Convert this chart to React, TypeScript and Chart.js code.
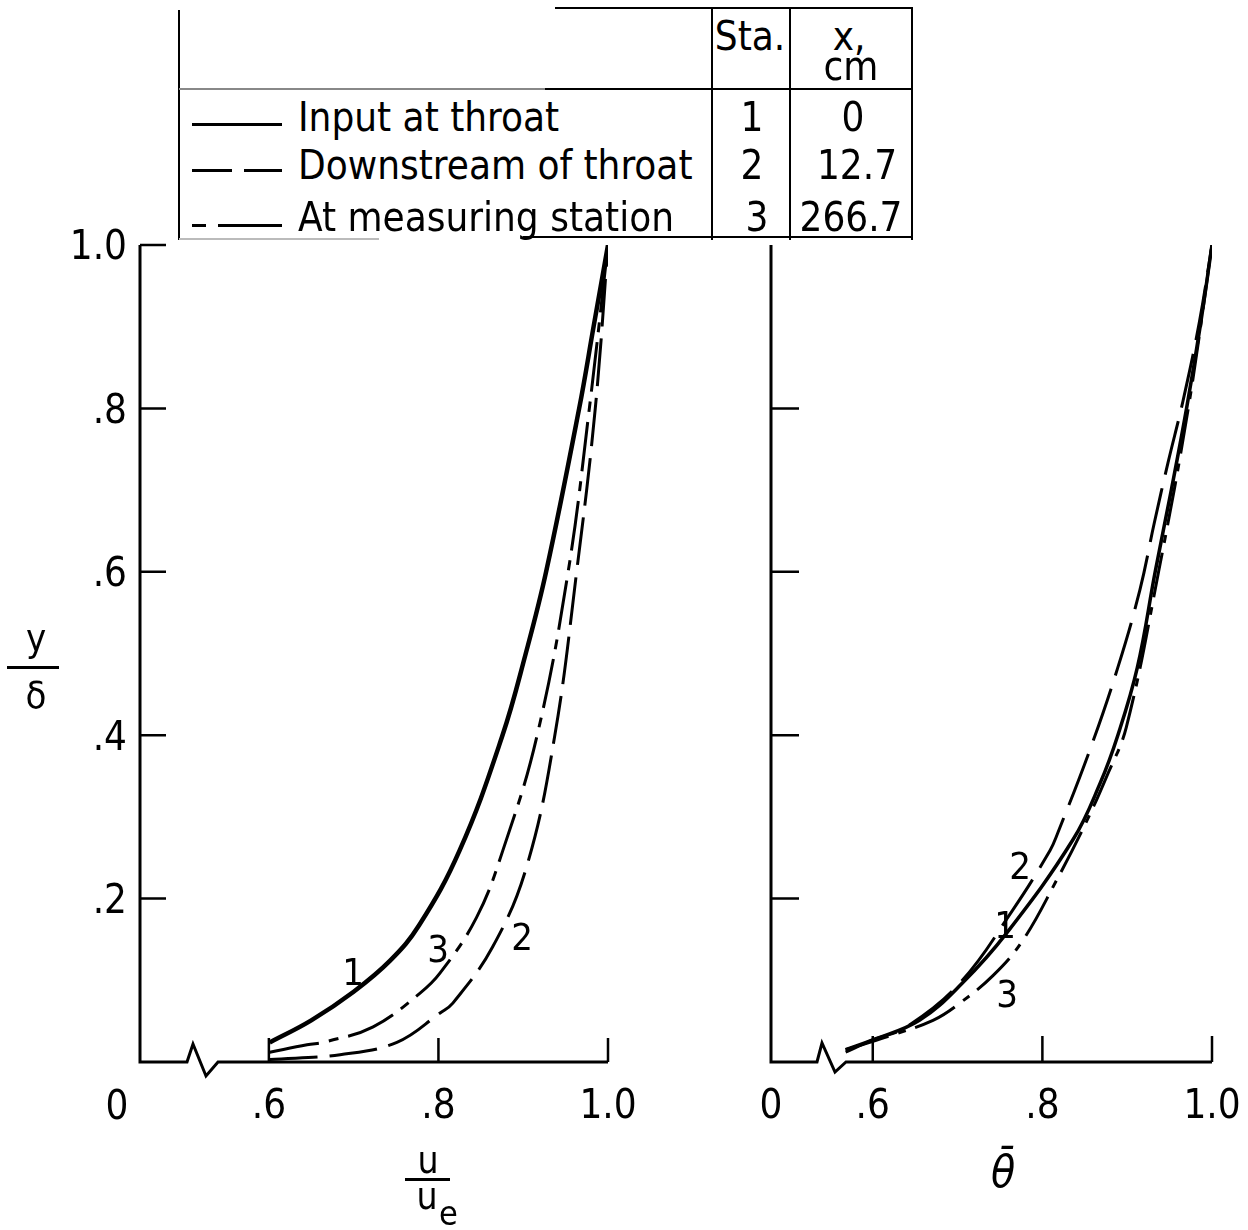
import React, { useEffect, useRef } from "react";
import { Chart, registerables } from "chart.js";

Chart.register(...registerables);

const FONT = '"DejaVu Sans Condensed", "DejaVu Sans", sans-serif';

// ---- Left panel: u/ue vs y/delta ----
const uSta1 = [0.601, 0.65, 0.7, 0.743, 0.777, 0.825, 0.875, 0.903, 0.927, 0.966, 0.983, 1.0];
const yUSta1 = [0.024, 0.051, 0.086, 0.124, 0.167, 0.259, 0.398, 0.5, 0.6, 0.8, 0.9, 1.0];

const uSta2 = [0.601, 0.684, 0.751, 0.802, 0.817, 0.864, 0.904, 0.937, 0.963, 0.985, 1.0];
const yUSta2 = [0.003, 0.009, 0.024, 0.06, 0.072, 0.141, 0.239, 0.398, 0.6, 0.8, 1.0];

const uSta3 = [0.601, 0.645, 0.668, 0.723, 0.778, 0.802, 0.845, 0.876, 0.916, 0.953, 0.978, 1.0];
const yUSta3 = [0.012, 0.021, 0.025, 0.043, 0.084, 0.109, 0.177, 0.259, 0.398, 0.6, 0.8, 1.0];

// ---- Right panel: theta-bar vs y/delta ----
const tSta1 = [0.568, 0.6, 0.655, 0.706, 0.758, 0.836, 0.868, 0.889, 0.912, 0.933, 0.952, 0.97, 0.986, 1.0];
const yTSta1 = [0.015, 0.027, 0.051, 0.097, 0.158, 0.272, 0.341, 0.4, 0.483, 0.6, 0.7, 0.8, 0.9, 1.0];

const tSta2 = [0.568, 0.6, 0.64, 0.703, 0.765, 0.809, 0.818, 0.856, 0.889, 0.915, 0.932, 0.948, 0.966, 0.985, 1.0];
const yTSta2 = [0.012, 0.027, 0.043, 0.097, 0.186, 0.259, 0.28, 0.382, 0.483, 0.578, 0.66, 0.733, 0.81, 0.905, 1.0];

const tSta3 = [0.568, 0.62, 0.671, 0.7, 0.742, 0.777, 0.817, 0.85, 0.876, 0.899, 0.937, 0.972, 1.0];
const yTSta3 = [0.015, 0.032, 0.051, 0.07, 0.106, 0.149, 0.223, 0.29, 0.35, 0.41, 0.6, 0.8, 1.0];

// ---- Axes ----
const xMinLeft = 0.448;
const xMinRight = 0.48;
const xTickValues = [0.6, 0.8, 1.0];
const xTickLabels = [".6", ".8", "1.0"];
const yTickValues = [0.2, 0.4, 0.6, 0.8, 1.0];
const yTickLabels = [".2", ".4", ".6", ".8", "1.0"];

// ---- Legend table ----
const legendNames = ["Input at throat", "Downstream of throat", "At measuring station"];
const legendSta = ["1", "2", "3"];
const legendX = ["0", "12.7", "266.7"];

const labelFor = (v: number, vals: number[], labels: string[]) => {
  const i = vals.findIndex((t) => Math.abs(t - v) < 1e-6);
  return i >= 0 ? labels[i] : "0";
};
const pts = (xs: number[], ys: number[]) => xs.map((x, i) => ({ x, y: ys[i] }));

const paperAxes = {
  id: "paperAxes",
  afterDatasetsDraw(chart: any, _a: any, opts: any) {
    const { ctx, chartArea, scales } = chart;
    const { left, right, top, bottom } = chartArea;
    const x = scales.x;
    const y = scales.y;
    ctx.save();
    ctx.strokeStyle = "#000";
    ctx.lineCap = "butt";
    ctx.lineJoin = "miter";
    ctx.lineWidth = 3;
    ctx.beginPath();
    ctx.moveTo(left, top - (opts.topExtend || 0));
    ctx.lineTo(left, bottom);
    const b = opts.brk;
    ctx.lineTo(left + b[0], bottom);
    ctx.lineTo(left + b[1], bottom - b[2]);
    ctx.lineTo(left + b[3], bottom + b[4]);
    ctx.lineTo(left + b[5], bottom);
    ctx.lineTo(right, bottom);
    ctx.stroke();
    ctx.lineWidth = 2.5;
    ctx.beginPath();
    for (const v of opts.xTicks) {
      const px = x.getPixelForValue(v);
      ctx.moveTo(px, bottom);
      ctx.lineTo(px, bottom - opts.xTickLen);
    }
    for (const v of opts.yTicks) {
      const py = y.getPixelForValue(v);
      ctx.moveTo(left, py);
      ctx.lineTo(left + opts.yTickLen, py);
    }
    ctx.stroke();
    ctx.restore();
  },
};

function buildConfig(p: any): any {
  return {
    type: "line",
    data: {
      datasets: p.series.map((s: any) => ({
        data: pts(s.x, s.y),
        borderColor: "#000",
        borderWidth: s.w,
        borderDash: s.dash,
        borderCapStyle: "butt",
        pointRadius: 0,
        fill: false,
        tension: 0.4,
      })),
    },
    options: {
      animation: false,
      responsive: false,
      events: [],
      layout: { padding: { top: p.padTop, right: p.padRight, left: 0, bottom: 0 } },
      plugins: { legend: { display: false }, tooltip: { enabled: false }, paperAxes: p.axes },
      scales: {
        x: {
          type: "linear",
          min: p.xMin,
          max: 1,
          grid: { display: false, drawTicks: false },
          border: { display: false },
          afterBuildTicks: (s: any) => {
            s.ticks = p.xTickLabelsAt.map((v: number) => ({ value: v }));
          },
          afterFit: (s: any) => {
            s.height = p.xHeight;
            s.paddingLeft = 0;
            s.paddingRight = 0;
          },
          ticks: {
            autoSkip: false,
            maxRotation: 0,
            padding: 22,
            color: "#000",
            font: { family: FONT, size: 40 },
            callback: (v: any) => labelFor(Number(v), xTickValues, xTickLabels),
          },
        },
        y: {
          type: "linear",
          min: 0,
          max: 1,
          grid: { display: false, drawTicks: false },
          border: { display: false },
          afterBuildTicks: (s: any) => {
            s.ticks = yTickValues.map((v) => ({ value: v }));
          },
          afterFit: (s: any) => {
            s.width = p.yWidth;
            s.paddingTop = 0;
            s.paddingBottom = 0;
          },
          ticks: {
            display: p.showY,
            padding: 13,
            labelOffset: 4,
            color: "#000",
            font: { family: FONT, size: 40 },
            callback: (v: any) => labelFor(Number(v), yTickValues, yTickLabels),
          },
        },
      },
    },
    plugins: [paperAxes],
  };
}

function T({ x, y, size = 38, align = "center", children, style }: any) {
  const tx = align === "center" ? "-50%" : align === "right" ? "-100%" : "0";
  return (
    <span
      style={{
        position: "absolute",
        left: x,
        top: y - size / 2,
        fontSize: size,
        lineHeight: 1,
        whiteSpace: "nowrap",
        transform: `translateX(${tx})`,
        fontFamily: FONT,
        ...style,
      }}
    >
      {children}
    </span>
  );
}

function Bar({ x, y, w, h, color = "#000" }: any) {
  return <div style={{ position: "absolute", left: x, top: y, width: w, height: h, background: color }} />;
}

export default function App() {
  const leftRef = useRef<HTMLCanvasElement>(null);
  const rightRef = useRef<HTMLCanvasElement>(null);

  useEffect(() => {
    const c1 = new Chart(
      leftRef.current as HTMLCanvasElement,
      buildConfig({
        series: [
          { x: uSta1, y: yUSta1, w: 4.5, dash: [] },
          { x: uSta2, y: yUSta2, w: 3, dash: [48, 12] },
          { x: uSta3, y: yUSta3, w: 3, dash: [50, 10, 10, 10] },
        ],
        xMin: xMinLeft,
        xTickLabelsAt: xTickValues,
        padTop: 45,
        padRight: 42,
        xHeight: 98,
        yWidth: 140,
        showY: true,
        axes: { brk: [47, 53, 18, 66, 14, 78], xTicks: xTickValues, yTicks: yTickValues, xTickLen: 24, yTickLen: 26, topExtend: 0 },
      })
    );
    const c2 = new Chart(
      rightRef.current as HTMLCanvasElement,
      buildConfig({
        series: [
          { x: tSta1, y: yTSta1, w: 3.5, dash: [] },
          { x: tSta2, y: yTSta2, w: 3, dash: [55, 14] },
          { x: tSta3, y: yTSta3, w: 3, dash: [45, 10, 8, 10] },
        ],
        xMin: xMinRight,
        xTickLabelsAt: [xMinRight, ...xTickValues],
        padTop: 45,
        padRight: 36,
        xHeight: 98,
        yWidth: 111,
        showY: false,
        axes: { brk: [46, 51, 19, 64, 10, 75], xTicks: xTickValues, yTicks: [0.2, 0.4, 0.6, 0.8], xTickLen: 26, yTickLen: 28, topExtend: 0 },
      })
    );
    return () => {
      c1.destroy();
      c2.destroy();
    };
  }, []);

  const rowY = [117, 165, 217];
  const sampleY = [123, 169, 224];

  return (
    <div
      style={{
        position: "absolute",
        left: 0,
        top: 0,
        width: 1248,
        height: 1230,
        background: "#fff",
        color: "#000",
        fontFamily: FONT,
        overflow: "hidden",
      }}
    >
      <canvas ref={leftRef} width={650} height={960} style={{ position: "absolute", left: 0, top: 200, width: 650, height: 960 }} />
      <canvas ref={rightRef} width={588} height={960} style={{ position: "absolute", left: 660, top: 200, width: 588, height: 960 }} />

      {/* legend table */}
      <Bar x={178} y={10} w={2} h={230} />
      <Bar x={555} y={7} w={358} h={2} />
      <Bar x={179} y={88} w={366} h={2} color="#888" />
      <Bar x={545} y={88} w={368} h={2} />
      <Bar x={711} y={7} w={2} h={233} />
      <Bar x={789} y={7} w={2} h={233} />
      <Bar x={911} y={7} w={2} h={233} />
      <Bar x={523} y={236} w={390} h={2} />
      <Bar x={179} y={238} w={200} h={2} color="#bbb" />

      <T x={750} y={36} size={40}>Sta.</T>
      <T x={849} y={36} size={40}>x,</T>
      <T x={851} y={66} size={40}>cm</T>

      {legendNames.map((n, i) => (
        <T key={n} x={298} y={rowY[i]} size={40} align="left">
          {n}
        </T>
      ))}
      {legendSta.map((n, i) => (
        <T key={"s" + n} x={i === 2 ? 757 : 752} y={rowY[i]} size={40}>
          {n}
        </T>
      ))}
      {legendX.map((n, i) => (
        <T key={"x" + n} x={[853, 857, 851][i]} y={rowY[i]} size={40}>
          {n}
        </T>
      ))}

      {/* legend line samples */}
      <Bar x={192} y={sampleY[0]} w={90} h={3} />
      <Bar x={192} y={sampleY[1]} w={40} h={3} />
      <Bar x={244} y={sampleY[1]} w={38} h={3} />
      <Bar x={192} y={sampleY[2]} w={14} h={3} />
      <Bar x={218} y={sampleY[2]} w={64} h={3} />

      {/* origin label, left panel */}
      <T x={117} y={1105} size={40}>0</T>

      {/* curve labels */}
      <T x={353} y={972} size={38}>1</T>
      <T x={438} y={949} size={38}>3</T>
      <T x={522} y={937} size={38}>2</T>
      <T x={1020} y={866} size={38}>2</T>
      <T x={1005} y={925} size={38}>1</T>
      <T x={1007} y={994} size={38}>3</T>

      {/* y/delta */}
      <T x={36} y={638} size={38}>y</T>
      <Bar x={7} y={666} w={52} h={3} />
      <T x={36} y={695} size={38}>δ</T>

      {/* u/ue */}
      <T x={428} y={1160} size={37}>u</T>
      <Bar x={405} y={1178} w={45} h={3} />
      <T x={427} y={1196} size={37}>u</T>
      <T x={439} y={1213} size={34} align="left">e</T>

      {/* theta bar */}
      <T x={1003} y={1172} size={44} style={{ fontStyle: "italic" }}>θ̄</T>
    </div>
  );
}
